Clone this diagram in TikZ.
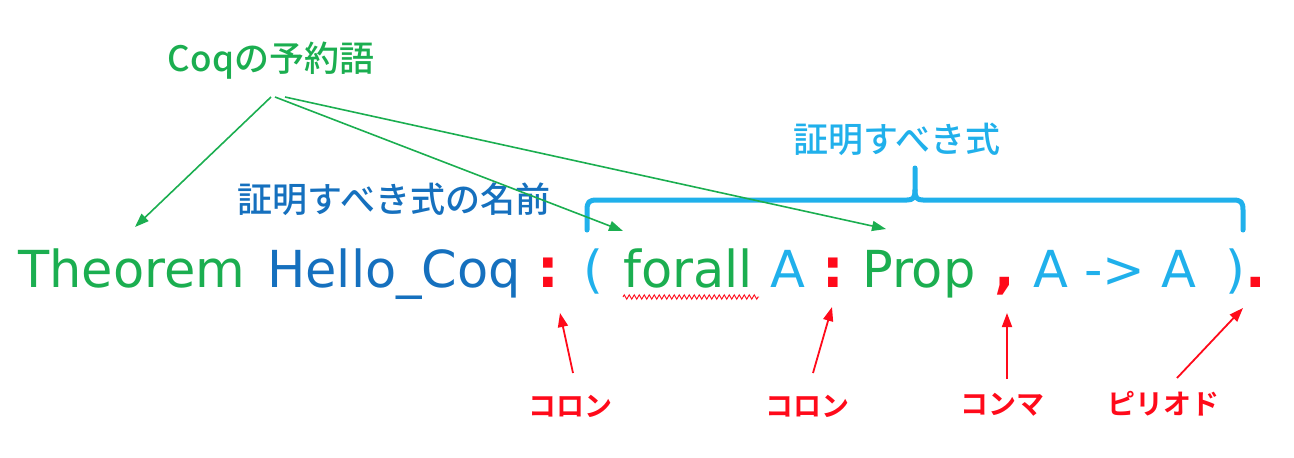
\documentclass[tikz,border=0pt]{standalone}
\usepackage{fontspec}
\setmainfont{DejaVu Sans}
\newfontfamily\jp{Noto Sans CJK JP Medium}
\newfontfamily\jpbold{Noto Sans CJK JP Bold}
\usetikzlibrary{arrows.meta,decorations.pathmorphing}
\definecolor{cgreen}{RGB}{27,174,80}
\definecolor{cblue}{RGB}{21,112,190}
\definecolor{clight}{RGB}{32,176,235}
\definecolor{cred}{RGB}{255,10,26}
\tikzset{
  code/.style={inner sep=0pt,anchor=base west,font=\fontsize{51}{60}\selectfont},
  punct/.style={inner sep=0pt,anchor=base,text=cred,font=\fontsize{54}{60}\selectfont\bfseries},
  jlabel/.style={inner sep=0pt,font=\jp\fontsize{35}{40}\selectfont},
  rlabel/.style={inner sep=0pt,text=cred,font=\jpbold\fontsize{28}{32}\selectfont},
  garrow/.style={draw=cgreen,line width=1.6pt,-{Triangle[length=14pt,width=10pt]},fill=none},
  rarrow/.style={draw=cred,line width=1.8pt,-{Triangle[length=14pt,width=10pt]}},
  bracestyle/.style={draw=clight,line width=5pt,line cap=round,line join=round}
}
\begin{document}
\begin{tikzpicture}[x=1pt,y=-1pt]
\useasboundingbox (0,0) rectangle (1294,458);
% labels
\node[jlabel,text=cgreen] (coq) at (271,61) {Coqの予約語};
\node[jlabel,text=cblue] (name) at (394,199) {証明すべき式の名前};
\node[jlabel,text=clight] (prop) at (897,139) {証明すべき式};
% code line
\node[code,text=cgreen] (thm) at (18,287) {Theorem};
\node[code,text=cblue] (hello) at (267,287) {Hello\_Coq};
\node[punct] (col1) at (548,287) {:};
\node[code,text=clight] (lpar) at (583,287) {(};
\node[code,text=cgreen] (forall) at (623,287) {forall};
\node[code,text=clight] (a1) at (770,287) {A};
\node[punct] (col2) at (833,287) {:};
\node[code,text=cgreen] (propw) at (862,287) {Prop};
\node[punct] (comma) at (1005,287) {,};
\node[code,text=clight] (imp) at (1033,287) {A -> A};
\node[code,text=clight] (rpar) at (1225,287) {)};
\node[punct] (dot) at (1256,287) {.};
% wavy underline
\draw[cred,line width=0.9pt,decorate,decoration={zigzag,amplitude=2.2pt,segment length=5pt}] (623,297) -- (759,297);
% brace
\draw[bracestyle] (587,230) -- (587,210) .. controls (587,202) and (589,200) .. (597,200) -- (907,200) .. controls (913,200) and (915,198) .. (915,190) -- (915,168);
\draw[bracestyle] (915,190) .. controls (915,198) and (917,200) .. (923,200) -- (1233,200) .. controls (1241,200) and (1243,202) .. (1243,210) -- (1243,230);
% green arrows
\coordinate (gs1) at (271,97);
\coordinate (gs2) at (275,97);
\coordinate (gs3) at (285,97);
\coordinate (ge1) at (135,227);
\coordinate (ge2) at (623,231);
\coordinate (ge3) at (886,229);
\draw[garrow] (gs1) -- (ge1);
\draw[garrow] (gs2) -- (ge2);
\draw[garrow] (gs3) -- (ge3);
% red labels
\node[rlabel] (l1) at (570,406) {コロン};
\node[rlabel] (l2) at (807,406) {コロン};
\node[rlabel] (l3) at (1002,405) {コンマ};
\node[rlabel] (l4) at (1163,404) {ピリオド};
\coordinate (rs1) at (573,373);
\coordinate (re1) at (560,313);
\coordinate (rs2) at (813,373);
\coordinate (re2) at (832,307);
\coordinate (rs3) at (1007,379);
\coordinate (re3) at (1007,313);
\coordinate (rs4) at (1177,378);
\coordinate (re4) at (1243,308);
\draw[rarrow] (rs1) -- (re1);
\draw[rarrow] (rs2) -- (re2);
\draw[rarrow] (rs3) -- (re3);
\draw[rarrow] (rs4) -- (re4);
\end{tikzpicture}
\end{document}
